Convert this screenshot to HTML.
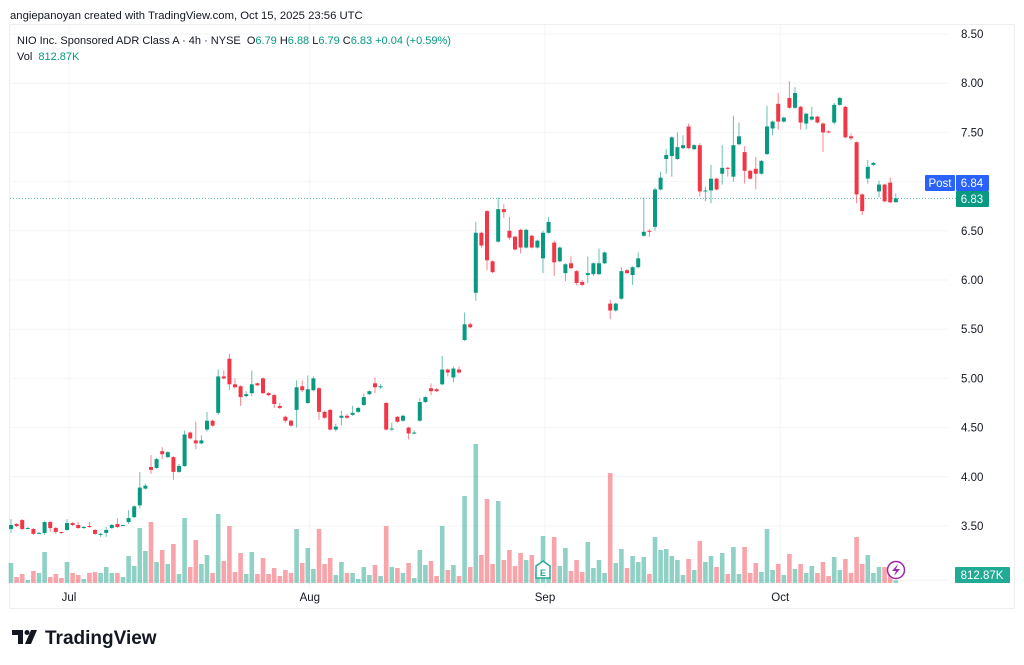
<!DOCTYPE html>
<html><head><meta charset="utf-8">
<style>
body{margin:0;background:#fff;width:1024px;height:665px;overflow:hidden;font-family:"Liberation Sans",sans-serif;}
svg{position:absolute;left:0;top:0}
</style></head>
<body>
<svg id="chart" width="1024" height="665" viewBox="0 0 1024 665">
  <rect x="9.5" y="24.5" width="1005" height="584" fill="#fff" stroke="#eceef2"/>
  <g id="grid"></g>
  <g id="vols"></g>
  <g id="candles"></g>
  <g id="yaxis"></g>
  <g id="xaxis"></g>
  <text x="10" y="19" font-size="11.3" fill="#131722">angiepanoyan created with TradingView.com, Oct 15, 2025 23:56 UTC</text>
  <text x="17" y="44" font-size="11" fill="#131722">NIO Inc. Sponsored ADR Class A · 4h · NYSE <tspan dx="3">O</tspan><tspan fill="#089981">6.79</tspan><tspan dx="3">H</tspan><tspan fill="#089981">6.88</tspan><tspan dx="3">L</tspan><tspan fill="#089981">6.79</tspan><tspan dx="3">C</tspan><tspan fill="#089981">6.83</tspan><tspan dx="3" fill="#089981">+0.04 (+0.59%)</tspan></text>
  <text x="17" y="60" font-size="11" fill="#131722">Vol <tspan dx="3" fill="#089981">812.87K</tspan></text>
  <g>
    <rect x="925" y="175" width="30" height="16" rx="1" fill="#2962ff"/>
    <text x="940" y="187" font-size="11.5" fill="#fff" text-anchor="middle">Post</text>
    <rect x="956" y="175" width="33" height="16" rx="1" fill="#2962ff"/>
    <text x="972" y="187" font-size="11.5" fill="#fff" text-anchor="middle">6.84</text>
  </g>
  <g>
    <rect x="956" y="191" width="33" height="16" rx="1" fill="#089981"/>
    <text x="972" y="203" font-size="11.5" fill="#fff" text-anchor="middle">6.83</text>
  </g>
  <g>
    <rect x="955" y="567" width="55" height="16" rx="1" fill="#22ab94"/>
    <text x="982" y="579" font-size="11.5" fill="#fff" text-anchor="middle">812.87K</text>
  </g>
  <g>
    <path d="M536 566 L543 561 L550 566 L550 578 L536 578 Z" fill="#fff" stroke="#22ab94" stroke-width="1.5"/>
    <text x="543" y="576" font-size="9" font-weight="bold" fill="#22ab94" text-anchor="middle">E</text>
  </g>
  <g>
    <circle cx="896" cy="570" r="8.5" fill="#fff" stroke="#9c27b0" stroke-width="1.5"/>
    <path d="M898 564 L892 571 L896 571 L894 576 L900 569 L896 569 Z" fill="#9c27b0"/>
  </g>
  <g>
    <path d="M12 630 H23 V644 H18 V635 H12 Z" fill="#131722"/>
    <circle cx="27" cy="632.5" r="2.5" fill="#131722"/>
    <path d="M31 630 H37 L31 644 H25 Z" fill="#131722"/>
    <text x="45" y="644" font-size="19" font-weight="bold" fill="#131722">TradingView</text>
  </g>
</svg>
<script>
const opens =[3.47,3.52,3.56,3.47,3.47,3.42,3.43,3.54,3.48,3.44,3.46,3.53,3.51,3.48,3.50,3.46,3.41,3.43,3.48,3.52,3.50,3.54,3.59,3.71,3.88,4.10,4.09,4.26,4.20,4.20,4.05,4.11,4.45,4.37,4.34,4.48,4.57,4.65,5.02,5.20,4.94,4.92,4.82,4.85,4.95,5.00,4.85,4.83,4.72,4.61,4.57,4.68,4.92,4.75,4.88,4.90,4.66,4.68,4.48,4.60,4.62,4.63,4.66,4.73,4.84,4.95,4.91,4.75,4.48,4.61,4.57,4.50,4.44,4.57,4.76,4.90,4.89,4.94,5.09,5.01,5.09,5.39,5.55,5.87,6.48,6.70,6.19,6.39,6.72,6.50,6.44,6.51,6.33,6.45,6.33,6.22,6.48,6.38,6.19,6.07,6.17,6.09,5.98,6.05,6.06,6.06,6.17,5.76,5.69,5.81,6.10,6.05,6.13,6.45,6.50,6.54,6.92,7.23,7.26,7.23,7.34,7.56,7.33,7.37,6.90,6.91,7.03,7.08,7.14,7.05,7.38,7.30,7.11,7.13,7.08,7.28,7.54,7.79,7.61,7.85,7.75,7.76,7.59,7.63,7.66,7.59,7.51,7.60,7.78,7.76,7.46,7.40,6.87,7.03,7.17,6.90,6.97,6.99,6.79];
const highs =[3.57,3.53,3.57,3.49,3.48,3.44,3.55,3.55,3.49,3.44,3.57,3.54,3.54,3.50,3.54,3.47,3.43,3.49,3.52,3.58,3.51,3.66,3.71,4.05,3.93,4.22,4.19,4.30,4.26,4.21,4.13,4.47,4.46,4.56,4.42,4.66,4.58,5.09,5.08,5.25,5.00,4.93,4.87,5.08,4.96,5.01,4.86,4.84,4.75,4.62,4.58,4.98,4.98,5.03,5.02,4.91,4.67,4.69,4.54,4.67,4.64,4.72,4.71,4.85,4.88,5.01,4.94,4.76,4.55,4.62,4.63,4.51,4.47,4.80,4.82,4.95,4.90,5.23,5.10,5.12,5.12,5.67,5.57,6.59,6.49,6.71,6.20,6.84,6.77,6.64,6.45,6.52,6.52,6.46,6.41,6.50,6.64,6.40,6.34,6.17,6.24,6.10,6.00,6.24,6.18,6.32,6.29,5.80,5.77,6.13,6.11,6.14,6.28,6.84,6.52,6.94,7.10,7.33,7.46,7.50,7.47,7.59,7.38,7.39,6.95,7.17,7.04,7.37,7.15,7.67,7.60,7.36,7.12,7.25,7.22,7.77,7.62,7.90,7.66,8.02,7.96,7.77,7.70,7.76,7.67,7.60,7.52,7.80,7.86,7.77,7.49,7.41,6.88,7.22,7.20,7.01,6.98,7.04,6.88];
const lows  =[3.43,3.49,3.46,3.47,3.41,3.42,3.41,3.44,3.42,3.42,3.45,3.50,3.47,3.47,3.48,3.41,3.39,3.39,3.47,3.48,3.50,3.52,3.58,3.68,3.87,4.03,4.08,4.18,4.19,3.97,4.04,4.10,4.38,4.28,4.33,4.46,4.51,4.63,4.99,4.88,4.90,4.72,4.81,4.82,4.92,4.84,4.82,4.70,4.69,4.55,4.51,4.50,4.86,4.74,4.87,4.58,4.59,4.47,4.46,4.52,4.59,4.62,4.65,4.72,4.83,4.85,4.89,4.47,4.47,4.55,4.56,4.38,4.43,4.56,4.75,4.83,4.86,4.93,5.02,4.96,5.05,5.38,5.51,5.79,6.33,6.10,6.07,6.38,6.63,6.41,6.30,6.27,6.32,6.32,6.32,6.07,6.47,6.04,6.18,5.99,6.11,5.95,5.94,5.97,6.04,6.05,6.16,5.60,5.68,5.80,6.06,5.95,6.12,6.44,6.44,6.50,6.91,7.08,7.05,7.22,7.33,7.33,7.32,6.85,6.80,6.78,6.91,6.97,7.05,7.00,7.37,6.98,7.02,6.92,7.07,7.27,7.47,7.53,7.60,7.74,7.74,7.53,7.53,7.62,7.59,7.30,7.49,7.58,7.77,7.44,7.42,6.78,6.66,6.98,7.16,6.84,6.79,6.78,6.79];
const closes=[3.51,3.50,3.47,3.48,3.42,3.43,3.54,3.48,3.44,3.43,3.53,3.51,3.48,3.49,3.49,3.42,3.42,3.46,3.51,3.49,3.51,3.58,3.70,3.89,3.91,4.07,4.18,4.23,4.25,4.05,4.11,4.43,4.39,4.34,4.37,4.57,4.52,5.02,5.00,4.94,4.91,4.81,4.84,4.94,4.93,4.85,4.83,4.74,4.70,4.57,4.52,4.91,4.88,4.89,5.00,4.66,4.60,4.48,4.51,4.62,4.60,4.65,4.70,4.81,4.87,4.91,4.92,4.48,4.49,4.56,4.62,4.44,4.45,4.76,4.81,4.87,4.87,5.09,5.06,5.10,5.06,5.55,5.52,6.48,6.35,6.20,6.08,6.72,6.69,6.43,6.31,6.33,6.51,6.33,6.40,6.48,6.59,6.18,6.33,6.16,6.12,5.97,5.95,6.07,6.17,6.17,6.28,5.69,5.76,6.09,6.07,6.13,6.22,6.49,6.49,6.92,7.04,7.27,7.45,7.35,7.37,7.34,7.37,6.90,6.91,7.03,6.92,7.14,7.13,7.37,7.46,7.11,7.03,7.08,7.21,7.56,7.61,7.61,7.65,7.75,7.90,7.60,7.69,7.66,7.60,7.50,7.50,7.78,7.85,7.45,7.44,6.87,6.70,7.15,7.19,6.97,6.80,6.79,6.83];
const volumesK=[6000,1800,2700,900,3600,3000,9300,1800,2700,1500,6300,3000,2400,1200,3000,3300,3000,4800,3000,3000,1800,8100,5100,16500,9600,18300,6300,9900,5700,11700,2700,19500,4800,12900,5700,8400,3000,20700,6600,17100,3300,9000,2700,9300,2700,7500,2700,4500,2100,3900,3000,16200,6000,10500,4200,16200,5700,7500,2400,6300,3000,3000,1200,4800,2400,5400,2100,17100,4800,4500,3000,6000,1500,9900,5400,6600,2100,17100,3900,5400,2100,26100,4800,41700,8400,25200,5700,24600,6900,9900,5100,9000,6900,8400,3000,14100,1800,13800,5100,10500,3600,6900,3300,12300,4500,6900,3000,33000,6000,10200,4500,8100,6300,7800,2700,13800,9900,10200,8100,6900,2400,7200,3900,12600,6300,8100,4800,9000,2700,10800,2700,10800,3000,6000,3300,16200,3900,5700,2400,8700,4200,5700,3000,5100,3000,6300,2100,7800,3900,7200,3000,13800,5700,8400,3000,4800,4800,4800,813];
const priceTicks=[8.5,8.0,7.5,7.0,6.5,6.0,5.5,5.0,4.5,4.0,3.5];
const monthLabels=["Jul","Aug","Sep","Oct"];
const monthIndex=[10,53,95,137];

const NS="http://www.w3.org/2000/svg";
function yP(p){return 34+(8.5-p)*98.4;}
function xI(i){return 11+i*5.6;}
function yV(v){return 583-v/300;}
function mk(tag,attrs,parent){const e=document.createElementNS(NS,tag);for(const k in attrs)e.setAttribute(k,attrs[k]);parent.appendChild(e);return e;}
const grid=document.getElementById('grid'),cg=document.getElementById('candles'),vg=document.getElementById('vols'),ya=document.getElementById('yaxis'),xa=document.getElementById('xaxis');
priceTicks.forEach((p,k)=>{
  const y=yP(p);
  const l=mk('line',{x1:10,x2:948,y1:y,y2:y,stroke:'#f3f4f6','stroke-width':1},grid);
  
  
  const t=mk('text',{x:961,y:y+4,'font-size':11.5,fill:'#131722'},ya);
  t.textContent=p.toFixed(2);
  
  
});
monthLabels.forEach((m,k)=>{
  const x=xI(monthIndex[k])+2;
  const l=mk('line',{x1:x,x2:x,y1:25,y2:587,stroke:'#f3f4f6','stroke-width':1},grid);
  
  
  const t=mk('text',{x:x,y:601,'font-size':11.5,fill:'#131722','text-anchor':'middle'},xa);
  t.textContent=m;
  
  
});
const pl=mk('line',{x1:10,x2:956,y1:yP(closes[closes.length-1]),y2:yP(closes[closes.length-1]),stroke:'#089981','stroke-width':1,'stroke-dasharray':'1 2',opacity:0.7},grid);


const vl=mk('line',{x1:10,x2:948,y1:yV(volumesK[volumesK.length-1]),y2:yV(volumesK[volumesK.length-1]),stroke:'#f3f4f6','stroke-width':1},grid);



for(let i=0;i<closes.length;i++){
  const up=closes[i]>=opens[i];
  const col=up?'#089981':'#f23645';
  const x=xI(i);
  const v=mk('rect',{x:x-2.3,y:yV(volumesK[i]),width:4.6,height:583-yV(volumesK[i]),fill:up?'rgba(8,153,129,0.45)':'rgba(242,54,69,0.45)'},vg);
  
  
  const w=mk('line',{x1:x,x2:x,y1:yP(highs[i]),y2:yP(lows[i]),stroke:col,'stroke-width':1,opacity:0.6},cg);
  
  
  const t=yP(Math.max(opens[i],closes[i])),b=yP(Math.min(opens[i],closes[i]));
  const r=mk('rect',{x:x-2,y:t,width:4,height:Math.max(1,b-t),fill:col},cg);
  
  
}
</script>
</body></html>
